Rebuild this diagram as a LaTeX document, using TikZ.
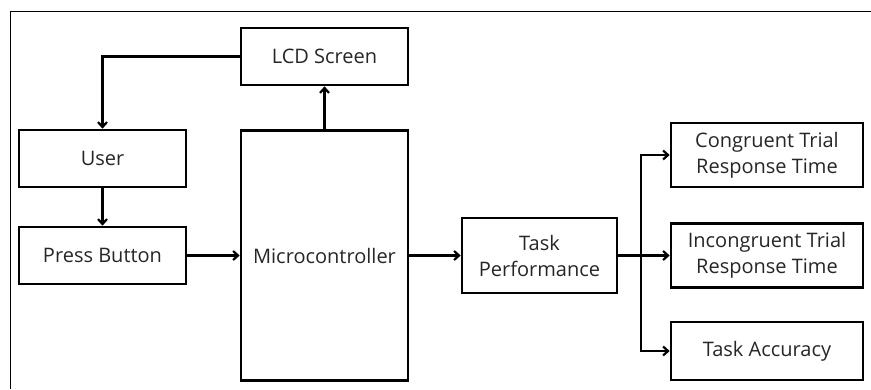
\documentclass[tikz,border=0pt]{standalone}
\usepackage{fontspec}
\setmainfont{Open Sans}
\usetikzlibrary{arrows.meta}
\begin{document}
\begin{tikzpicture}[x=1pt,y=-1pt,box/.style={shape=rectangle,draw=black,line width=2.6pt,minimum width=167pt,minimum height=57pt,inner sep=0pt,align=center,font=\fontsize{20}{26}\selectfont,text=black!85},boxR/.style={box,minimum width=192pt},flow/.style={line width=2.2pt,-{Straight Barb[length=5pt,width=9pt]}}]
\useasboundingbox (0,0) rectangle (871,389);
\def\bx{641};
\def\my{255.5};

\draw[line width=1pt] (10,389) -- (10,11) -- (871,11);

\node[box] (LCD) at (324.5,56.5) {LCD Screen};
\node[box] (User) at (102.5,158.5) {User};
\node[box] (Press) at (102.5,\my) {Press Button};
\node[box,minimum height=250pt] (Micro) at (324.5,\my) {Microcontroller};
\node[box,minimum width=155pt,minimum height=75pt] (Task) at (539.5,\my) {Task\\Performance};

\node[boxR,minimum height=64pt] (Cong) at (767,155) {Congruent Trial\\Response Time};
\node[boxR,minimum height=64pt] (Incong) at (767,\my) {Incongruent Trial\\Response Time};
\node[boxR,minimum height=58pt] (Acc) at (767,351) {Task Accuracy};

\coordinate (branch) at (\bx,\my);

\draw[flow] (LCD.west) -| (User.north);
\draw[flow] (Micro.north) -- (LCD.south);
\draw[flow] (User.south) -- (Press.north);
\draw[flow] (Press.east) -- (Micro.west);
\draw[flow] (Micro.east) -- (Task.west);
\draw[flow] (Task.east) -- (Incong.west);
\draw[flow] (branch) |- (Cong.west);
\draw[flow] (branch) |- (Acc.west);
\end{tikzpicture}
\end{document}
